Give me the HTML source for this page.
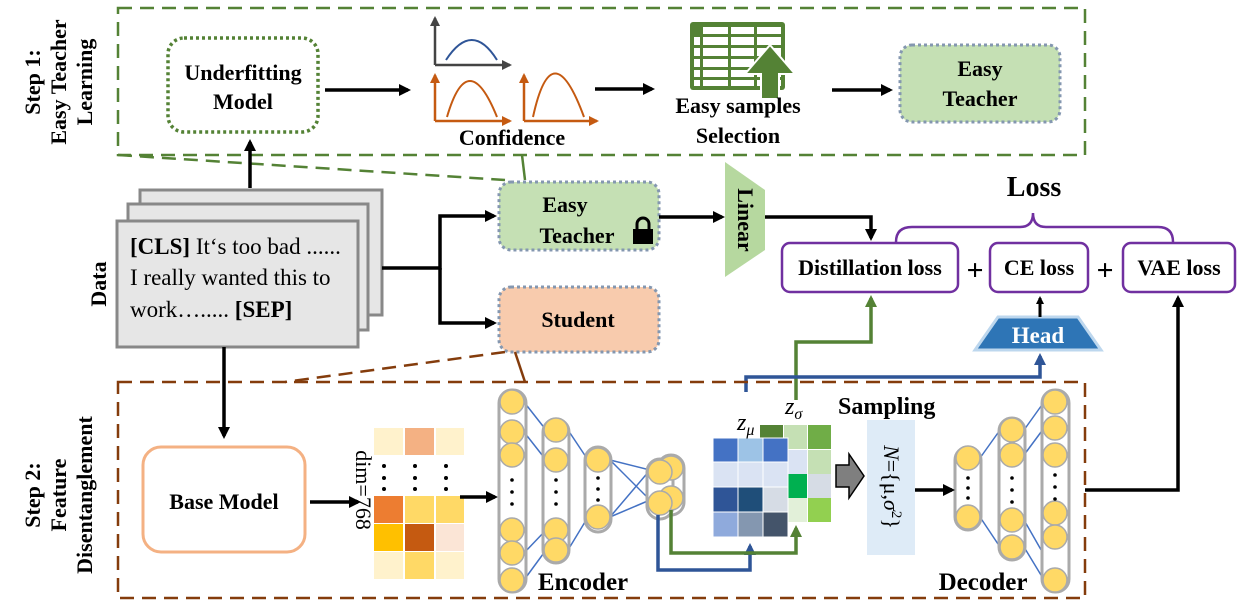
<!DOCTYPE html>
<html><head><meta charset="utf-8"><style>
html,body{margin:0;padding:0;background:#fff;}
svg{display:block;font-family:"Liberation Serif","Times New Roman",serif;}
svg text{font-family:"Liberation Serif","Times New Roman",serif;}
.b{font-weight:bold;}
</style></head><body>
<svg width="1245" height="608" viewBox="0 0 1245 608" xmlns="http://www.w3.org/2000/svg" font-family="Liberation Serif, serif">
<defs>
<marker id="ab" markerWidth="8" markerHeight="8" refX="6" refY="4" orient="auto" markerUnits="userSpaceOnUse"><path d="M0,0 L8,4 L0,8 z" fill="#000"/></marker>
<marker id="ag" markerWidth="12" markerHeight="12" refX="9" refY="6" orient="auto" markerUnits="userSpaceOnUse"><path d="M0,0 L12,6 L0,12 z" fill="#548235"/></marker>
<marker id="abl" markerWidth="12" markerHeight="12" refX="9" refY="6" orient="auto" markerUnits="userSpaceOnUse"><path d="M0,0 L12,6 L0,12 z" fill="#2f5597"/></marker>
<marker id="ak" markerWidth="12" markerHeight="12" refX="9" refY="6" orient="auto" markerUnits="userSpaceOnUse"><path d="M0,0 L12,6 L0,12 z" fill="#000"/></marker>
<marker id="ao" markerWidth="10" markerHeight="10" refX="8" refY="5" orient="auto" markerUnits="userSpaceOnUse"><path d="M0,0 L10,5 L0,10 z" fill="#c55a11"/></marker>
<marker id="agr" markerWidth="10" markerHeight="10" refX="8" refY="5" orient="auto" markerUnits="userSpaceOnUse"><path d="M0,0 L10,5 L0,10 z" fill="#444"/></marker>
</defs>

<!-- Step 1 box -->
<rect x="118" y="8" width="967" height="147" fill="none" stroke="#548235" stroke-width="2.5" stroke-dasharray="14,8"/>
<line x1="118" y1="155" x2="505" y2="180" stroke="#548235" stroke-width="2.5" stroke-dasharray="14,8"/>
<line x1="522" y1="155" x2="525" y2="180" stroke="#548235" stroke-width="2.5"/>
<text class="b" font-size="22" transform="translate(40,82) rotate(-90)" text-anchor="middle">Step 1:</text>
<text class="b" font-size="22" transform="translate(66,82) rotate(-90)" text-anchor="middle">Easy Teacher</text>
<text class="b" font-size="22" transform="translate(92,82) rotate(-90)" text-anchor="middle">Learning</text>

<rect x="168" y="38" width="150" height="94" rx="16" fill="#fff" stroke="#548235" stroke-width="3.5" stroke-dasharray="3,3"/>
<text class="b" font-size="22" x="243" y="80" text-anchor="middle">Underfitting</text>
<text class="b" font-size="22" x="243" y="109" text-anchor="middle">Model</text>
<line x1="325" y1="90" x2="408" y2="90" stroke="#000" stroke-width="3.5" marker-end="url(#ak)"/>

<!-- charts -->
<path d="M435,65 V18" stroke="#444" stroke-width="2.5" fill="none" marker-end="url(#agr)"/>
<path d="M435,65 H510" stroke="#444" stroke-width="2.5" fill="none" marker-end="url(#agr)"/>
<path d="M446,60 Q472,20 497,60" stroke="#2f5597" stroke-width="2" fill="none"/>
<path d="M435,121 V75" stroke="#c55a11" stroke-width="2.5" fill="none" marker-end="url(#ao)"/>
<path d="M435,121 H510" stroke="#c55a11" stroke-width="2.5" fill="none" marker-end="url(#ao)"/>
<path d="M447,117 Q468,45 497,117" stroke="#c55a11" stroke-width="2" fill="none"/>
<path d="M524,121 V75" stroke="#c55a11" stroke-width="2.5" fill="none" marker-end="url(#ao)"/>
<path d="M524,121 H597" stroke="#c55a11" stroke-width="2.5" fill="none" marker-end="url(#ao)"/>
<path d="M533,117 Q552,30 584,117" stroke="#c55a11" stroke-width="2" fill="none"/>
<text class="b" font-size="22" x="512" y="145" text-anchor="middle">Confidence</text>
<line x1="595" y1="89" x2="652" y2="89" stroke="#000" stroke-width="3.5" marker-end="url(#ak)"/>

<!-- spreadsheet -->
<g>
<rect x="690" y="22" width="95" height="68" rx="3" fill="#548235"/>
<g fill="#fff">
<rect x="703" y="27" width="25" height="7"/><rect x="731" y="27" width="23" height="7"/><rect x="757" y="27" width="24" height="7"/>
<rect x="694" y="37" width="6" height="8"/><rect x="703" y="37" width="25" height="8"/><rect x="731" y="37" width="23" height="8"/><rect x="757" y="37" width="24" height="8"/>
<rect x="694" y="48" width="6" height="8"/><rect x="703" y="48" width="25" height="8"/><rect x="731" y="48" width="23" height="8"/><rect x="757" y="48" width="24" height="8"/>
<rect x="694" y="59" width="6" height="8"/><rect x="703" y="59" width="25" height="8"/><rect x="731" y="59" width="23" height="8"/><rect x="757" y="59" width="24" height="8"/>
<rect x="694" y="70" width="6" height="7"/><rect x="703" y="70" width="25" height="7"/><rect x="731" y="70" width="23" height="7"/><rect x="757" y="70" width="24" height="7"/>
<rect x="694" y="80" width="6" height="6"/><rect x="703" y="80" width="25" height="6"/><rect x="731" y="80" width="23" height="6"/><rect x="757" y="80" width="24" height="6"/>
</g>
<path d="M745,74 L770,45 L795,74 L779,74 L779,99 L761,99 L761,74 Z" fill="#548235" stroke="#fff" stroke-width="2"/>
</g>
<text class="b" font-size="22" x="738" y="113" text-anchor="middle">Easy samples</text>
<text class="b" font-size="22" x="738" y="143" text-anchor="middle">Selection</text>
<line x1="832" y1="90" x2="890" y2="90" stroke="#000" stroke-width="3.5" marker-end="url(#ak)"/>

<rect x="900" y="45" width="160" height="77" rx="12" fill="#c5e0b4" stroke="#8497b0" stroke-width="3" stroke-dasharray="3,3"/>
<text class="b" font-size="22" x="980" y="76" text-anchor="middle">Easy</text>
<text class="b" font-size="22" x="980" y="106" text-anchor="middle">Teacher</text>

<!-- Data -->
<line x1="250" y1="188" x2="250" y2="142" stroke="#000" stroke-width="3.5" marker-end="url(#ak)"/>
<rect x="140" y="190" width="242" height="125" fill="#e6e6e6" stroke="#888" stroke-width="3"/>
<rect x="128" y="204" width="240" height="126" fill="#e6e6e6" stroke="#888" stroke-width="3"/>
<rect x="117" y="221" width="241" height="126" fill="#e6e6e6" stroke="#888" stroke-width="3"/>
<text font-size="23" x="130" y="254"><tspan class="b">[CLS]</tspan> It‘s too bad ......</text>
<text font-size="23" x="130" y="285">I really wanted this to</text>
<text font-size="23" x="130" y="317">work…..... <tspan class="b">[SEP]</tspan></text>
<text class="b" font-size="22" transform="translate(106,284) rotate(-90)" text-anchor="middle">Data</text>

<path d="M382,268 H440 V216 H494" stroke="#000" stroke-width="3.5" fill="none" marker-end="url(#ak)"/>
<path d="M440,268 V323 H494" stroke="#000" stroke-width="3.5" fill="none" marker-end="url(#ak)"/>

<rect x="499" y="182" width="160" height="68" rx="12" fill="#c5e0b4" stroke="#8497b0" stroke-width="3" stroke-dasharray="3,3"/>
<text class="b" font-size="22" x="565" y="212" text-anchor="middle">Easy</text>
<text class="b" font-size="22" x="577" y="243" text-anchor="middle">Teacher</text>
<rect x="633" y="229" width="20" height="15" fill="#000"/>
<path d="M637,230 V224 A6,6 0 0 1 649,224 V230" stroke="#000" stroke-width="3" fill="none"/>

<rect x="499" y="287" width="160" height="65" rx="12" fill="#f8cbad" stroke="#8497b0" stroke-width="3" stroke-dasharray="3,3"/>
<text class="b" font-size="22" x="578" y="327" text-anchor="middle">Student</text>

<line x1="659" y1="217" x2="722" y2="217" stroke="#000" stroke-width="3.5" marker-end="url(#ak)"/>
<path d="M725,162 L765,190 L765,250 L725,277 Z" fill="#a9d18e" opacity="0.85"/>
<text class="b" font-size="22" transform="translate(738,220) rotate(90)" text-anchor="middle">Linear</text>
<path d="M765,217 H871 V238" stroke="#000" stroke-width="3.5" fill="none" marker-end="url(#ak)"/>

<!-- Loss -->
<text class="b" font-size="28" x="1034" y="196" text-anchor="middle">Loss</text>
<path d="M896,242 Q896,227 912,227 H1020 Q1033,227 1033,213 Q1033,227 1046,227 H1158 Q1173,227 1173,242" stroke="#7030a0" stroke-width="2.5" fill="none"/>
<rect x="782" y="243" width="176" height="49" rx="8" fill="#fff" stroke="#7030a0" stroke-width="2.5"/>
<text class="b" font-size="22" x="870" y="275" text-anchor="middle">Distillation loss</text>
<text class="b" font-size="30" x="975" y="280" text-anchor="middle">+</text>
<rect x="990" y="243" width="98" height="49" rx="8" fill="#fff" stroke="#7030a0" stroke-width="2.5"/>
<text class="b" font-size="22" x="1039" y="275" text-anchor="middle">CE loss</text>
<text class="b" font-size="30" x="1105" y="280" text-anchor="middle">+</text>
<rect x="1123" y="243" width="112" height="49" rx="8" fill="#fff" stroke="#7030a0" stroke-width="2.5"/>
<text class="b" font-size="22" x="1179" y="275" text-anchor="middle">VAE loss</text>

<path d="M975,350 L998,317 L1078,317 L1101,350 Z" fill="#2e75b6" stroke="#bdd7ee" stroke-width="3"/>
<text class="b" font-size="23" x="1038" y="343" text-anchor="middle" fill="#fff">Head</text>
<line x1="1040" y1="317" x2="1040" y2="298" stroke="#000" stroke-width="3" marker-end="url(#ab)"/>

<path d="M796,400 V342 H871 V298" stroke="#548235" stroke-width="3.5" fill="none" marker-end="url(#ag)"/>
<path d="M746,392 V377 H1040 V356" stroke="#2f5597" stroke-width="3.5" fill="none" marker-end="url(#abl)"/>
<path d="M1085,490 H1178 V298" stroke="#000" stroke-width="3.5" fill="none" marker-end="url(#ak)"/>

<!-- Step 2 box -->
<rect x="118" y="382" width="967" height="216" fill="none" stroke="#843c0c" stroke-width="2.5" stroke-dasharray="14,8"/>
<line x1="505" y1="352" x2="285" y2="382" stroke="#843c0c" stroke-width="2.5" stroke-dasharray="14,8"/>
<line x1="515" y1="352" x2="525" y2="382" stroke="#843c0c" stroke-width="2.5"/>
<text class="b" font-size="22" transform="translate(40,495) rotate(-90)" text-anchor="middle">Step 2:</text>
<text class="b" font-size="22" transform="translate(66,495) rotate(-90)" text-anchor="middle">Feature</text>
<text class="b" font-size="22" transform="translate(92,495) rotate(-90)" text-anchor="middle">Disentanglement</text>

<line x1="224" y1="347" x2="224" y2="436" stroke="#000" stroke-width="3.5" marker-end="url(#ak)"/>
<rect x="143" y="447" width="162" height="105" rx="18" fill="#fff" stroke="#f4b183" stroke-width="3"/>
<text class="b" font-size="22" x="224" y="509" text-anchor="middle">Base Model</text>
<line x1="310" y1="502" x2="358" y2="502" stroke="#000" stroke-width="3.5" marker-end="url(#ak)"/>
<text font-size="22" transform="translate(356,490) rotate(90)" text-anchor="middle">dim=768</text>

<!-- heat grid -->
<g>
<rect x="374" y="428" width="29" height="27" fill="#fff2cc"/><rect x="405" y="428" width="29" height="27" fill="#f4b183"/><rect x="436" y="428" width="28" height="27" fill="#fff2cc"/>
<rect x="374" y="496" width="29" height="27" fill="#ed7d31"/><rect x="405" y="496" width="29" height="27" fill="#ffd966"/><rect x="436" y="496" width="28" height="27" fill="#ffd966"/>
<rect x="374" y="524" width="29" height="27" fill="#ffc000"/><rect x="405" y="524" width="29" height="27" fill="#c55a11"/><rect x="436" y="524" width="28" height="27" fill="#fbe5d6"/>
<rect x="374" y="552" width="29" height="27" fill="#fff2cc"/><rect x="405" y="552" width="29" height="27" fill="#ffd966"/><rect x="436" y="552" width="28" height="27" fill="#fff2cc"/>
<g fill="#000"><circle cx="384" cy="466" r="2"/><circle cx="384" cy="478" r="2"/><circle cx="384" cy="489" r="2"/>
<circle cx="415" cy="466" r="2"/><circle cx="415" cy="478" r="2"/><circle cx="415" cy="489" r="2"/>
<circle cx="446" cy="466" r="2"/><circle cx="446" cy="478" r="2"/><circle cx="446" cy="489" r="2"/></g>
</g>
<line x1="460" y1="497" x2="495" y2="497" stroke="#000" stroke-width="3.5" marker-end="url(#ak)"/>

<!-- encoder lines -->
<g stroke="#4472c4" stroke-width="1.5">
<line x1="524" y1="402" x2="546" y2="430"/><line x1="524" y1="432" x2="546" y2="460"/>
<line x1="524" y1="553" x2="546" y2="530"/><line x1="524" y1="580" x2="546" y2="550"/>
<line x1="568" y1="430" x2="588" y2="460"/><line x1="568" y1="550" x2="588" y2="517"/>
<line x1="610" y1="460" x2="650" y2="470"/><line x1="610" y1="460" x2="650" y2="500"/>
<line x1="610" y1="517" x2="650" y2="470"/><line x1="610" y1="517" x2="650" y2="500"/>
<line x1="980" y1="458" x2="1000" y2="430"/><line x1="980" y1="517" x2="1000" y2="547"/>
<line x1="1024" y1="430" x2="1044" y2="402"/><line x1="1024" y1="455" x2="1044" y2="428"/>
<line x1="1024" y1="520" x2="1044" y2="555"/><line x1="1024" y1="547" x2="1044" y2="580"/>
</g>
<g stroke="#aaa" stroke-width="3" fill="#fff">
<rect x="499" y="390" width="27" height="202" rx="13"/>
<rect x="543" y="419" width="26" height="144" rx="13"/>
<rect x="585" y="447" width="26" height="85" rx="13"/>
<rect x="658" y="455" width="26" height="60" rx="13"/>
<rect x="647" y="459" width="26" height="60" rx="13"/>
<rect x="955" y="447" width="26" height="83" rx="13"/>
<rect x="999" y="418" width="26" height="142" rx="13"/>
<rect x="1042" y="390" width="27" height="202" rx="13"/>
</g>
<g fill="#ffd966" stroke="#aaa" stroke-width="1.5">
<circle cx="512" cy="402" r="12"/><circle cx="512" cy="432" r="12"/><circle cx="512" cy="455" r="12"/><circle cx="512" cy="530" r="12"/><circle cx="512" cy="553" r="12"/><circle cx="512" cy="580" r="12"/>
<circle cx="556" cy="430" r="12"/><circle cx="556" cy="460" r="12"/><circle cx="556" cy="530" r="12"/><circle cx="556" cy="550" r="12"/>
<circle cx="598" cy="460" r="12"/><circle cx="598" cy="517" r="12"/>
<circle cx="671" cy="468" r="12"/><circle cx="671" cy="498" r="12"/>
<circle cx="660" cy="472" r="12"/><circle cx="660" cy="503" r="12"/>
<circle cx="968" cy="458" r="12"/><circle cx="968" cy="517" r="12"/>
<circle cx="1012" cy="430" r="12"/><circle cx="1012" cy="455" r="12"/><circle cx="1012" cy="520" r="12"/><circle cx="1012" cy="547" r="12"/>
<circle cx="1055" cy="402" r="12"/><circle cx="1055" cy="428" r="12"/><circle cx="1055" cy="455" r="12"/><circle cx="1055" cy="513" r="12"/><circle cx="1055" cy="537" r="12"/><circle cx="1055" cy="580" r="12"/>
</g>
<g fill="#000">
<circle cx="512" cy="480" r="1.8"/><circle cx="512" cy="492" r="1.8"/><circle cx="512" cy="504" r="1.8"/>
<circle cx="556" cy="480" r="1.8"/><circle cx="556" cy="492" r="1.8"/><circle cx="556" cy="504" r="1.8"/>
<circle cx="598" cy="478" r="1.8"/><circle cx="598" cy="489" r="1.8"/><circle cx="598" cy="500" r="1.8"/>
<circle cx="968" cy="478" r="1.8"/><circle cx="968" cy="488" r="1.8"/><circle cx="968" cy="498" r="1.8"/>
<circle cx="1012" cy="478" r="1.8"/><circle cx="1012" cy="490" r="1.8"/><circle cx="1012" cy="502" r="1.8"/>
<circle cx="1055" cy="475" r="1.8"/><circle cx="1055" cy="487" r="1.8"/><circle cx="1055" cy="499" r="1.8"/>
</g>
<text class="b" font-size="25" x="583" y="590" text-anchor="middle">Encoder</text>
<text class="b" font-size="25" x="983" y="590" text-anchor="middle">Decoder</text>

<path d="M658,515 V570 H750 V546" stroke="#2f5597" stroke-width="3.5" fill="none" marker-end="url(#abl)"/>
<path d="M671,510 V553 H796 V528" stroke="#548235" stroke-width="3.5" fill="none" marker-end="url(#ag)"/>

<!-- z sigma grid -->
<g>
<rect x="760" y="425" width="23" height="24" fill="#548235"/><rect x="784" y="425" width="23" height="24" fill="#c5e0b4"/><rect x="808" y="425" width="23" height="24" fill="#70ad47"/>
<rect x="784" y="450" width="23" height="24" fill="#dae3f3"/><rect x="808" y="450" width="23" height="24" fill="#c5e0b4"/>
<rect x="784" y="474" width="23" height="24" fill="#00b050"/><rect x="808" y="474" width="23" height="24" fill="#d6dce5"/>
<rect x="784" y="498" width="23" height="24" fill="#e2f0d9"/><rect x="808" y="498" width="23" height="24" fill="#92d050"/>
</g>
<g stroke="#fff" stroke-width="1">
<rect x="713" y="438" width="25" height="24" fill="#4472c4"/><rect x="738" y="438" width="25" height="24" fill="#9dc3e6"/><rect x="763" y="438" width="25" height="24" fill="#4472c4"/>
<rect x="713" y="462" width="25" height="25" fill="#dae3f3"/><rect x="738" y="462" width="25" height="25" fill="#dae3f3"/><rect x="763" y="462" width="25" height="25" fill="#dae3f3"/>
<rect x="713" y="487" width="25" height="25" fill="#2f5597"/><rect x="738" y="487" width="25" height="25" fill="#1f4e79"/><rect x="763" y="487" width="25" height="25" fill="#d6dce5"/>
<rect x="713" y="512" width="25" height="25" fill="#8faadc"/><rect x="738" y="512" width="25" height="25" fill="#8497b0"/><rect x="763" y="512" width="25" height="25" fill="#44546a"/>
</g>
<text font-size="24" font-style="italic" x="737" y="430">z<tspan font-size="16" dy="5">μ</tspan></text>
<text font-size="24" font-style="italic" x="785" y="414">z<tspan font-size="16" dy="5">σ</tspan></text>
<text class="b" font-size="24" x="838" y="414">Sampling</text>

<path d="M836,465 H849 V454 L864,476 L849,498 V487 H836 Z" fill="#7f7f7f" stroke="#000" stroke-width="1.5"/>
<rect x="867" y="420" width="48" height="135" fill="#deebf7"/>
<text font-size="22" transform="translate(884,487) rotate(90)" text-anchor="middle"><tspan font-style="italic">N</tspan>={μ,<tspan font-style="italic">σ</tspan><tspan font-size="15" dy="-8">2</tspan><tspan dy="8">}</tspan></text>
<line x1="915" y1="490" x2="952" y2="490" stroke="#000" stroke-width="3.5" marker-end="url(#ak)"/>
</svg>
</body></html>
